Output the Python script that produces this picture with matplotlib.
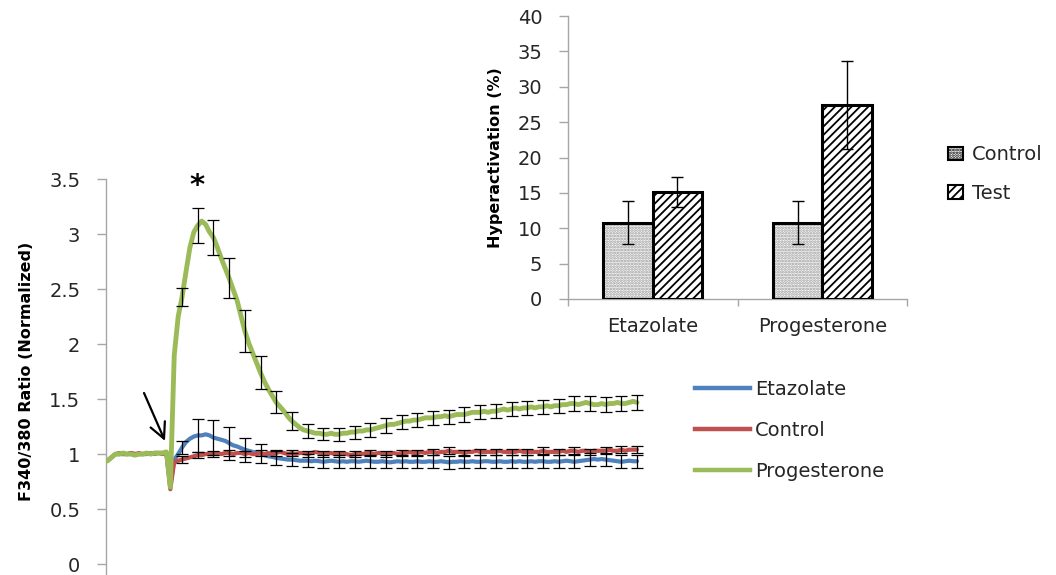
import numpy as np
import matplotlib
matplotlib.use("Agg")
import matplotlib.pyplot as plt
from matplotlib.lines import Line2D
from matplotlib.patches import Patch

# ---- Calcium imaging traces (F340/380, normalized), one value per frame ----
series_names = ["Etazolate", "Control", "Progesterone"]

etazolate = [
    0.93, 0.94, 0.97, 1.00, 1.00, 1.00, 1.00, 1.01, 1.00, 1.00,
    1.00, 1.00, 1.01, 1.00, 1.01, 1.01, 1.01, 0.72, 0.95, 1.00,
    1.06, 1.11, 1.14, 1.16, 1.17, 1.17, 1.18, 1.17, 1.15, 1.14,
    1.13, 1.12, 1.10, 1.08, 1.07, 1.055, 1.04, 1.03, 1.02, 1.01,
    1.005, 0.99, 0.98, 0.975, 0.965, 0.96, 0.955, 0.95, 0.95, 0.945,
    0.94, 0.94, 0.94, 0.935, 0.94, 0.935, 0.93, 0.935, 0.94, 0.935,
    0.93, 0.935, 0.93, 0.935, 0.935, 0.93, 0.935, 0.94, 0.935, 0.93,
    0.93, 0.935, 0.93, 0.925, 0.93, 0.935, 0.93, 0.935, 0.93, 0.93,
    0.935, 0.93, 0.93, 0.935, 0.93, 0.93, 0.935, 0.93, 0.925, 0.93,
    0.93, 0.935, 0.93, 0.93, 0.935, 0.93, 0.93, 0.935, 0.935, 0.93,
    0.93, 0.935, 0.93, 0.93, 0.935, 0.93, 0.935, 0.93, 0.93, 0.935,
    0.93, 0.935, 0.935, 0.93, 0.93, 0.935, 0.93, 0.935, 0.94, 0.935,
    0.93, 0.935, 0.94, 0.945, 0.95, 0.955, 0.95, 0.955, 0.95, 0.945,
    0.94, 0.935, 0.93, 0.935, 0.94, 0.935, 0.935,
]

control = [
    0.93, 0.94, 0.97, 1.00, 1.01, 1.00, 1.00, 1.01, 1.00, 1.01,
    1.00, 1.01, 1.00, 1.01, 1.01, 1.00, 1.01, 0.68, 0.93, 0.94,
    0.95, 0.96, 0.97, 0.98, 0.99, 0.99, 1.00, 1.00, 1.00, 1.01,
    1.00, 1.01, 1.01, 1.00, 1.01, 1.01, 1.00, 1.01, 1.00, 1.00,
    1.01, 1.00, 1.01, 1.00, 1.01, 1.02, 1.01, 1.00, 1.01, 1.00,
    1.01, 1.01, 1.00, 1.01, 1.02, 1.01, 1.00, 1.01, 1.01, 1.00,
    1.00, 1.01, 1.00, 0.99, 1.00, 1.01, 1.00, 1.01, 1.01, 1.00,
    1.01, 1.01, 1.00, 1.01, 1.01, 1.00, 1.01, 1.01, 1.02, 1.01,
    1.01, 1.02, 1.01, 1.02, 1.02, 1.01, 1.02, 1.02, 1.03, 1.02,
    1.02, 1.02, 1.01, 1.02, 1.02, 1.03, 1.02, 1.02, 1.02, 1.02,
    1.02, 1.03, 1.02, 1.02, 1.02, 1.02, 1.03, 1.02, 1.02, 1.02,
    1.02, 1.02, 1.03, 1.02, 1.02, 1.02, 1.02, 1.03, 1.02, 1.03,
    1.03, 1.02, 1.03, 1.03, 1.02, 1.03, 1.03, 1.03, 1.03, 1.04,
    1.03, 1.03, 1.04, 1.03, 1.04, 1.04, 1.04,
]

progesterone = [
    0.93, 0.94, 0.97, 1.00, 1.00, 1.01, 1.00, 1.00, 0.99, 1.00,
    1.00, 1.01, 1.00, 1.01, 1.01, 1.01, 1.02, 0.70, 1.90, 2.25,
    2.43, 2.66, 2.88, 3.02, 3.08, 3.12, 3.09, 3.02, 2.97, 2.88,
    2.78, 2.69, 2.60, 2.50, 2.40, 2.26, 2.12, 2.01, 1.92, 1.83,
    1.74, 1.66, 1.59, 1.53, 1.47, 1.43, 1.39, 1.34, 1.30, 1.27,
    1.24, 1.22, 1.21, 1.20, 1.19, 1.19, 1.18, 1.18, 1.19, 1.18,
    1.18, 1.19, 1.19, 1.20, 1.20, 1.21, 1.21, 1.22, 1.22, 1.23,
    1.24, 1.25, 1.26, 1.27, 1.27, 1.28, 1.29, 1.30, 1.30, 1.31,
    1.31, 1.32, 1.33, 1.33, 1.33, 1.34, 1.34, 1.35, 1.34, 1.35,
    1.36, 1.36, 1.36, 1.37, 1.38, 1.38, 1.38, 1.39, 1.38, 1.39,
    1.39, 1.40, 1.41, 1.40, 1.41, 1.42, 1.41, 1.42, 1.42, 1.43,
    1.42, 1.43, 1.43, 1.44, 1.43, 1.44, 1.44, 1.45, 1.45, 1.46,
    1.46, 1.45, 1.46, 1.47, 1.46, 1.45, 1.45, 1.46, 1.45, 1.46,
    1.46, 1.47, 1.46, 1.46, 1.47, 1.48, 1.47,
]

# SEM shown every 4th frame starting at frame 20
etazolate_err = [0.06, 0.15, 0.16, 0.15, 0.11, 0.085, 0.065, 0.06, 0.06, 0.06,
                 0.06, 0.06, 0.06, 0.06, 0.06, 0.06, 0.06, 0.06, 0.06, 0.06,
                 0.06, 0.06, 0.06, 0.06, 0.06, 0.06, 0.06, 0.06, 0.06, 0.06]
control_err = [0.03, 0.03, 0.03, 0.03, 0.03, 0.03, 0.03, 0.03, 0.03, 0.03,
               0.03, 0.03, 0.03, 0.03, 0.03, 0.03, 0.03, 0.03, 0.03, 0.03,
               0.03, 0.03, 0.03, 0.03, 0.03, 0.03, 0.03, 0.03, 0.03, 0.03]
progesterone_err = [0.085, 0.156, 0.16, 0.18, 0.19, 0.15, 0.10, 0.085, 0.065, 0.055,
                    0.06, 0.06, 0.065, 0.065, 0.065, 0.065, 0.065, 0.065, 0.065, 0.065,
                    0.065, 0.065, 0.065, 0.065, 0.065, 0.065, 0.065, 0.065, 0.065, 0.067]

y_ticks = [0, 0.5, 1, 1.5, 2, 2.5, 3, 3.5]

# ---- Hyperactivation bar chart ----
groups = ["Etazolate", "Progesterone"]
bar_series = ["Control", "Test"]
control_pct = [10.8, 10.8]
control_pct_err = [3.0, 3.0]
test_pct = [15.1, 27.4]
test_pct_err = [2.1, 6.2]
pct_ticks = [0, 5, 10, 15, 20, 25, 30, 35, 40]

# ---------------------------------------------------------------------------
W, H = 1056, 575
plt.rcParams["font.family"] = ["DejaVu Sans"]
plt.rcParams["hatch.linewidth"] = 1.3
fig = plt.figure(figsize=(W / 100, H / 100), dpi=100)


def px_rect(left, top, right, bottom):
    return [left / W, 1 - bottom / H, (right - left) / W, (bottom - top) / H]


AXIS_GREY = "#a6a6a6"
TEXT = "#262626"
colors = ["#4f81bd", "#c0504d", "#9bbb59"]
widths = [3.0, 3.0, 3.5]

# ---- main trace panel ----
ax = fig.add_axes(px_rect(106, 179.3, 652.7, 575))
frames = np.arange(len(progesterone))
bar_frames = frames[20::4]
traces = [etazolate, control, progesterone]
errs = [etazolate_err, control_err, progesterone_err]

for vals, c, lw in zip(traces, colors, widths):
    ax.plot(frames, vals, color=c, lw=lw, solid_capstyle="round",
            solid_joinstyle="round", zorder=3)
for vals, e in zip(traces, errs):
    centers = np.asarray(vals)[bar_frames]
    ax.errorbar(bar_frames, centers, yerr=e, fmt="none", ecolor="black",
                elinewidth=0.9, capsize=4.3, capthick=0.9, zorder=5)

ax.set_xlim(0.6, 140)
ax.set_ylim(-0.1, 3.5)
ax.set_xticks([])
ax.set_yticks(y_ticks)
ax.set_yticklabels([f"{t:g}" for t in y_ticks])
for s in ("top", "right", "bottom"):
    ax.spines[s].set_visible(False)
ax.spines["left"].set_color(AXIS_GREY)
ax.spines["left"].set_linewidth(1.0)
ax.tick_params(axis="y", length=6.5, width=1.0, color=AXIS_GREY,
               labelsize=14, labelcolor=TEXT, pad=12)
ax.set_ylabel("F340/380 Ratio (Normalized)", fontsize=11.5,
              fontweight="bold", color="black")
ax.yaxis.set_label_coords(-0.132, 0.5155)
ax.patch.set_alpha(0)

# stimulus arrow and significance mark
ax.annotate("", xy=(15.64, 1.12), xytext=(10.29, 1.556),
            arrowprops=dict(arrowstyle="->", lw=1.6, color="black",
                            mutation_scale=28, shrinkA=0, shrinkB=0))
ax.text(23.7, 3.44, "*", fontsize=21, fontweight="bold", ha="center",
        va="center", color="black")

handles = [Line2D([], [], color=c, lw=3.2) for c in colors]
ax.legend(handles, series_names, loc="upper left",
          bbox_to_anchor=(695 / W, 1 - 380 / H), bbox_transform=fig.transFigure,
          frameon=False, fontsize=14, handlelength=2.83, handletextpad=0.26,
          borderpad=0, borderaxespad=0, labelspacing=1.12, labelcolor=TEXT)

# ---- inset: hyperactivation ----
ax2 = fig.add_axes(px_rect(568, 16, 907, 299))
ax2.patch.set_alpha(0)
xc = np.arange(len(groups)) + 0.5
bw = 0.292
ax2.bar(xc - bw / 2, control_pct, bw, facecolor="#f7f7f7", edgecolor="#9c9c9c",
        hatch="......", linewidth=0, zorder=2)
ax2.bar(xc - bw / 2, control_pct, bw, fill=False, edgecolor="black",
        linewidth=2.2, zorder=3)
ax2.bar(xc + bw / 2, test_pct, bw, facecolor="white", edgecolor="black",
        hatch="////", linewidth=2.2, zorder=3)
ax2.errorbar(xc - bw / 2, control_pct, yerr=control_pct_err, fmt="none",
             ecolor="black", elinewidth=1.0, capsize=4.3, capthick=1.0, zorder=4)
ax2.errorbar(xc + bw / 2, test_pct, yerr=test_pct_err, fmt="none",
             ecolor="black", elinewidth=1.0, capsize=4.3, capthick=1.0, zorder=4)

ax2.set_xlim(0, len(groups))
ax2.set_ylim(0, 40)
ax2.set_yticks(pct_ticks)
ax2.set_xticks(np.arange(len(groups) + 1))
ax2.set_xticklabels([])
ax2.set_xticks(xc, minor=True)
ax2.set_xticklabels(groups, minor=True)
for s in ("top", "right"):
    ax2.spines[s].set_visible(False)
for s in ("left", "bottom"):
    ax2.spines[s].set_color(AXIS_GREY)
    ax2.spines[s].set_linewidth(1.0)
ax2.tick_params(axis="y", length=6.5, width=1.0, color=AXIS_GREY,
                labelsize=14, labelcolor=TEXT, pad=12)
ax2.tick_params(axis="x", which="major", length=5, width=1.0, color=AXIS_GREY)
ax2.tick_params(axis="x", which="minor", length=0, labelsize=14,
                labelcolor=TEXT, pad=13)
ax2.set_ylabel("Hyperactivation (%)", fontsize=11.5, fontweight="bold",
               color="black")
ax2.yaxis.set_label_coords((503 - 568) / 339, 0.5)

bar_handles = [Patch(facecolor="white", edgecolor="black", hatch="......", lw=1.5),
               Patch(facecolor="white", edgecolor="black", hatch="////", lw=1.5)]
fig.legend(bar_handles, bar_series, loc="upper left",
           bbox_to_anchor=(948 / W, 1 - 145 / H), frameon=False, fontsize=14,
           handlelength=0.77, handleheight=0.67, handletextpad=0.46,
           borderpad=0, borderaxespad=0, labelspacing=1.02, labelcolor=TEXT)

fig.savefig("out.png", dpi=100)
